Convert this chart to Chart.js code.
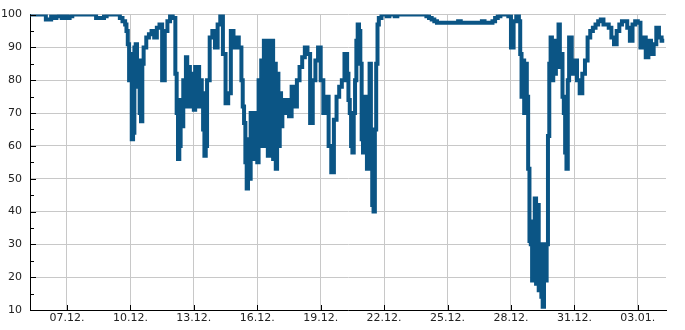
<!DOCTYPE html>
<html>
<head>
<meta charset="utf-8">
<script src="https://cdn.jsdelivr.net/npm/chart.js@4/dist/chart.umd.min.js"></script>
<style>
  html, body { margin: 0; padding: 0; background: #fff; }
  #wrap { width: 685px; height: 330px; }
</style>
</head>
<body>
<div id="wrap"><canvas id="chart"></canvas></div>
<script>
// hours after 05.12. 06:00 (denser where the signal jumps around)
const startTime = Date.UTC(2023, 11, 5, 6);
const hours = [
  0, 3, 6, 9, 12, 15, 18, 21, 24, 27, 30, 33, 36, 39, 42, 45, 48, 51,
  54, 57, 60, 63, 66, 69, 72, 75, 78, 81, 84, 87, 90, 93, 96, 99, 102, 105,
  108, 109.5, 111, 112.5, 114, 115.5, 117, 118.5, 120, 121.5, 123, 124.5, 126, 127.5, 129,
  132, 135, 138, 141, 144, 147, 150, 153, 156, 159, 162,
  165, 166.5, 168, 169.5, 171, 172.5, 174, 175.5, 177, 178.5, 180, 181.5, 183,
  184.5, 186, 187.5, 189, 190.5, 192, 193.5, 195, 196.5, 198, 199.5, 201,
  204, 207, 210, 213, 216, 219, 222, 225, 228, 231, 234, 237,
  240, 241.5, 243, 244.5, 246, 247.5, 249, 250.5, 252, 253.5, 255, 256.5, 258,
  259.5, 261, 262.5, 264, 265.5, 267, 268.5, 270, 271.5, 273, 274.5, 276,
  277.5, 279, 280.5, 282, 283.5, 285, 286.5, 288,
  291, 294, 297, 300, 303, 306, 309, 312, 315, 318, 321, 324,
  327, 330, 333, 336, 339, 342, 345, 348, 351, 354, 357,
  360, 361.5, 363, 364.5, 366, 367.5, 369, 370.5, 372, 373.5, 375, 376.5, 378,
  379.5, 381, 382.5, 384, 385.5, 387, 388.5, 390, 391.5, 393, 394.5, 396,
  399, 402, 405, 408, 411, 414, 417, 420, 423, 426, 429, 432, 435,
  438, 441, 444, 447, 450, 453, 456, 459, 462, 465, 468, 471, 474,
  477, 480, 483, 486, 489, 492, 495, 498, 501, 504, 507, 510, 513,
  516, 519, 522, 525, 528, 531, 534, 537, 540, 543, 546, 549, 552,
  555, 556.5, 558, 559.5, 561, 562.5, 564, 565.5, 567, 568.5, 570, 571.5, 573,
  574.5, 576, 577.5, 579, 580.5, 582, 583.5, 585, 586.5, 588, 589.5, 591, 592.5,
  594, 595.5, 597, 598.5, 600, 601.5, 603, 604.5, 606, 607.5, 609, 610.5, 612,
  615, 618, 621, 624, 627, 630, 633, 636, 639, 642, 645, 648,
  651, 654, 657, 660, 663, 666, 669, 672, 675, 678, 681, 684,
  687, 690, 693, 696, 699, 702, 705, 708, 711, 714, 717, 720
];
const values = [
  100, 100, 100, 100, 100, 100, 98.5, 98.5, 99.5, 99, 99.5, 100, 99, 100, 99, 99.5, 100, 100,
  100, 100, 100, 100, 100, 100, 100, 99, 99, 99, 99.5, 100, 100, 100, 100, 100, 99, 98,
  97, 95, 91, 80, 88, 62, 64, 90, 91, 78, 86, 70, 67.5, 85, 90,
  93, 94, 95, 93, 96, 97, 80, 95, 98, 100, 99,
  82, 70, 56, 60, 74, 66, 80, 72, 87, 78, 84, 72, 82,
  76, 71, 84, 78, 84, 72, 80, 76, 65, 57, 60, 80,
  93, 95, 90, 97, 100, 88, 73, 76, 95, 90, 93, 90,
  80, 72, 67, 55, 47, 62, 50, 70, 57, 68, 56, 70, 55,
  80, 62, 86, 60, 92, 60, 88, 57, 92, 60, 92, 56,
  85, 53, 82, 60, 76, 66, 74, 70,
  74, 69, 78, 72, 80, 84, 87, 90, 88, 67, 80, 86,
  90, 80, 70, 75, 60, 52, 68, 75, 78, 80, 88,
  82, 74, 70, 60, 58, 70, 80, 92, 97, 95, 85, 62, 58,
  75, 60, 53, 70, 85, 60, 42, 40, 65, 85, 97, 99,
  100, 100, 99.5, 100, 100, 99.5, 100, 100, 100, 100, 100, 100, 100,
  100, 100, 100, 100, 99.5, 99, 98.5, 98, 97.5, 97.5, 97.5, 97.5, 97.5,
  97.5, 97.5, 97.5, 98, 97.5, 97.5, 97.5, 97.5, 97.5, 97.5, 97.5, 97.5, 98,
  97.5, 97.5, 97.5, 98, 99, 99.5, 100, 100, 100, 99.5, 90, 98, 100,
  98, 88, 75, 86, 70, 85, 75, 53, 31, 30, 19, 37, 44,
  18, 42, 16, 30, 14, 11, 30, 19, 30, 63, 85, 93, 80,
  92, 82, 90, 84, 97, 85, 88, 75, 70, 58, 53, 80, 93,
  82, 86, 80, 76, 82, 86, 93, 95, 96, 97, 98, 98.5,
  97, 97, 96, 93, 91, 95, 97, 98, 98, 96, 92, 97,
  98, 97.5, 90, 93, 87, 92, 88, 91, 96, 93, 92, 92
];
const tickDays = [
  '2023-12-07', '2023-12-10', '2023-12-13', '2023-12-16', '2023-12-19',
  '2023-12-22', '2023-12-25', '2023-12-28', '2023-12-31', '2024-01-03'
];
const yTicks = [10, 20, 30, 40, 50, 60, 70, 80, 90, 100];
const yMinorTicks = [15, 25, 35, 45, 55, 65, 75, 85, 95];

const xMin = startTime;
const xMax = Date.UTC(2024, 0, 4, 8);
const tickValues = tickDays.map((d) => Date.parse(d + 'T00:00:00Z'));

const n = Math.min(hours.length, values.length);
const points = [];
for (let i = 0; i < n; i++) points.push({ x: startTime + hours[i] * 3600e3, y: values[i] });

const pad2 = (v) => String(v).padStart(2, '0');
const fmtDay = (ms) => {
  const d = new Date(ms);
  return pad2(d.getUTCDate()) + '.' + pad2(d.getUTCMonth() + 1) + '.';
};

// ticks drawn inward from the axes
const innerTicks = {
  id: 'innerTicks',
  afterDatasetsDraw(chart) {
    const { ctx, scales: { x, y }, chartArea } = chart;
    ctx.save();
    ctx.strokeStyle = '#000';
    ctx.lineWidth = 1;
    ctx.beginPath();
    yTicks.forEach((v) => {
      const py = Math.round(y.getPixelForValue(v)) + 0.5;
      ctx.moveTo(chartArea.left, py);
      ctx.lineTo(chartArea.left + 6, py);
    });
    yMinorTicks.forEach((v) => {
      const py = Math.round(y.getPixelForValue(v)) + 0.5;
      ctx.moveTo(chartArea.left, py);
      ctx.lineTo(chartArea.left + 4, py);
    });
    tickValues.forEach((v) => {
      const px = Math.round(x.getPixelForValue(v)) + 0.5;
      ctx.moveTo(px, chartArea.bottom);
      ctx.lineTo(px, chartArea.bottom - 5);
    });
    ctx.stroke();
    ctx.restore();
  }
};

Chart.defaults.font.family = 'DejaVu Sans';
Chart.defaults.font.size = 11;
Chart.defaults.color = '#222';

new Chart(document.getElementById('chart'), {
  type: 'line',
  data: {
    datasets: [{
      data: points,
      borderColor: '#0b5585',
      borderWidth: 4,
      borderJoinStyle: 'miter',
      pointRadius: 0,
      stepped: true,
      fill: false,
    }]
  },
  options: {
    responsive: true,
    maintainAspectRatio: false,
    animation: false,
    layout: { padding: { top: 10, right: 19, left: 0, bottom: 0 } },
    plugins: { legend: { display: false }, tooltip: { enabled: false } },
    scales: {
      x: {
        type: 'linear',
        min: xMin,
        max: xMax,
        afterBuildTicks: (scale) => { scale.ticks = tickValues.map((v) => ({ value: v })); },
        afterFit: (scale) => { scale.height = 20; },
        ticks: { callback: (v) => fmtDay(v), padding: 2, maxRotation: 0, autoSkip: false },
        grid: { color: '#c8c8c8', drawTicks: false },
        border: { color: '#000', width: 1 },
      },
      y: {
        min: 10,
        max: 100,
        afterBuildTicks: (scale) => { scale.ticks = yTicks.map((v) => ({ value: v })); },
        afterFit: (scale) => { scale.width = 30; },
        ticks: { padding: 8 },
        grid: { color: '#c8c8c8', drawTicks: false },
        border: { color: '#000', width: 1 },
      }
    }
  },
  plugins: [innerTicks]
});
</script>
</body>
</html>
